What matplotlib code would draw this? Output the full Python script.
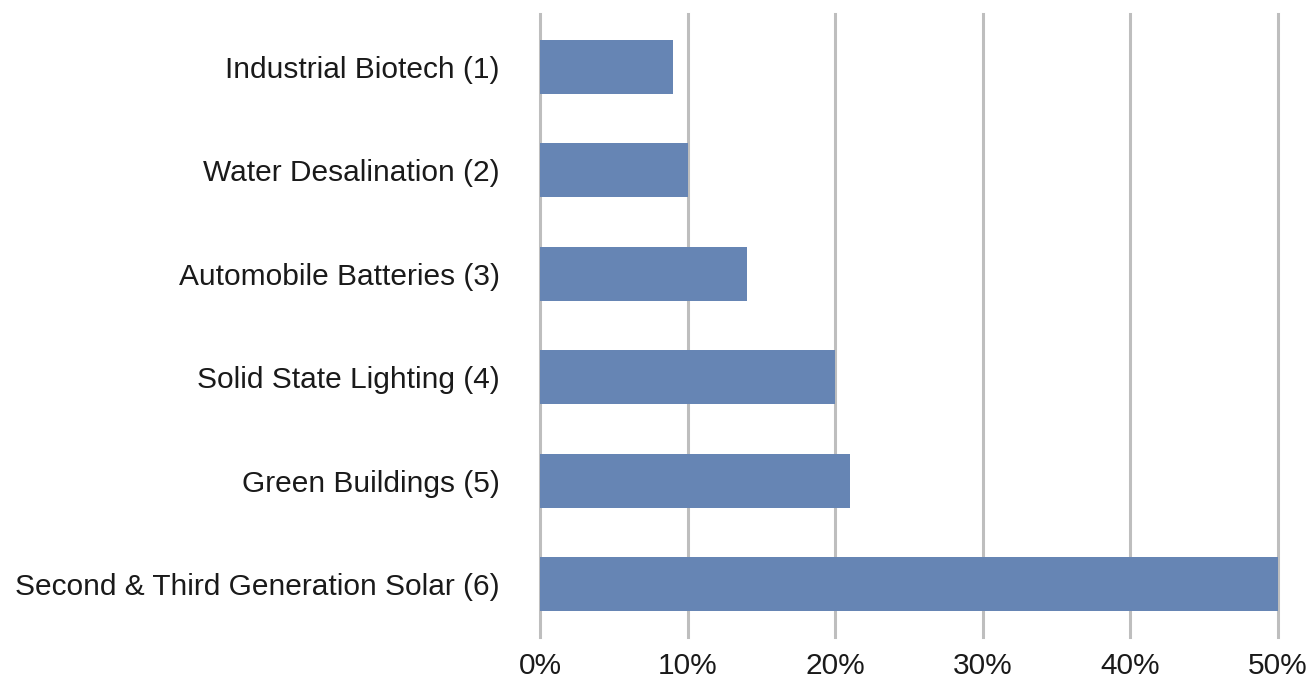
import matplotlib.pyplot as plt
from matplotlib.ticker import FuncFormatter

# data, top row first
categories = [
    "Industrial Biotech (1)",
    "Water Desalination (2)",
    "Automobile Batteries (3)",
    "Solid State Lighting (4)",
    "Green Buildings (5)",
    "Second & Third Generation Solar (6)",
]
shares = [9, 10, 14, 20, 21, 50]
x_ticks = [0, 10, 20, 30, 40, 50]

plt.rcParams['font.family'] = ['Liberation Sans', 'DejaVu Sans']

fig = plt.figure(figsize=(13.07, 6.81), dpi=100)
ax = fig.add_axes([0.4132, 0.0646, 0.5646, 0.9148])

ypos = list(range(len(categories)))[::-1]
ax.barh(ypos, shares, height=0.52, color='#6685B4', zorder=3)

ax.set_xlim(0, 50)
ax.set_ylim(-0.51, 5.51)
ax.set_xticks(x_ticks)
ax.xaxis.set_major_formatter(FuncFormatter(lambda v, p: f"{v:.0f}%"))
ax.set_yticks(ypos)
ax.set_yticklabels(categories)
ax.tick_params(axis='both', length=0, labelsize=21.5, colors='#1a1a1a')
ax.tick_params(axis='y', pad=29)
ax.tick_params(axis='x', pad=11)

ax.grid(True, axis='x', color='#BEBEBE', linewidth=2.2, zorder=1)
for gl in ax.get_xgridlines():
    gl.set_clip_on(False)
for s in ax.spines.values():
    s.set_visible(False)

fig.savefig("out.png", dpi=100)
